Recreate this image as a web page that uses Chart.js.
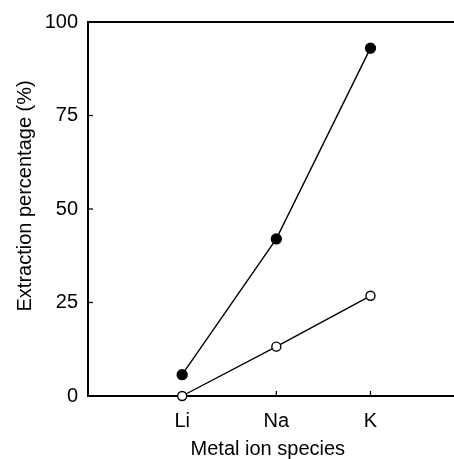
<!DOCTYPE html>
<html>
<head>
<meta charset="utf-8">
<script src="https://cdn.jsdelivr.net/npm/chart.js@4.4.1/dist/chart.umd.min.js"></script>
<style>
  html, body { margin: 0; padding: 0; background: #fff; }
  #wrap { width: 454px; height: 459px; }
</style>
</head>
<body>
<div id="wrap"><canvas id="myChart" width="454" height="459"></canvas></div>
<script>
// metal ions on the x axis
let ions = ["Li", "Na", "K"];
// filled circles
let extFilled = [5.7, 42, 93];
// open circles
let extOpen = [0, 13.2, 26.8];
let yTicks = [0, 25, 50, 75, 100];
let yTitle = "Extraction percentage (%)";

let font = "'Liberation Sans', Arial, Helvetica, sans-serif";

function pts(vals) {
  return vals.map((v, i) => ({ x: i + 1, y: v }));
}

// inward tick marks, top frame line, y title
const frame = {
  id: "frame",
  beforeDatasetsDraw(chart) {
    const c = chart.ctx;
    const a = chart.chartArea;
    const xs = chart.scales.x;
    const ys = chart.scales.y;
    c.save();
    c.strokeStyle = "#000";
    c.lineWidth = 1.3;
    yTicks.forEach(t => {
      if (t == 0 || t == 100) return;
      let py = ys.getPixelForValue(t);
      c.beginPath();
      c.moveTo(a.left, py);
      c.lineTo(a.left + 5, py);
      c.stroke();
    });
    ions.forEach((n, i) => {
      let px = xs.getPixelForValue(i + 1);
      c.beginPath();
      c.moveTo(px, a.bottom);
      c.lineTo(px, a.bottom - 5);
      c.stroke();
    });
    c.lineWidth = 2;
    c.beginPath();
    c.moveTo(a.left - 1, a.top);
    c.lineTo(chart.width, a.top);
    c.stroke();
    c.beginPath();
    c.moveTo(a.right - 1, a.bottom);
    c.lineTo(chart.width, a.bottom);
    c.stroke();

    c.fillStyle = "#000";
    c.font = "20px " + font;
    c.textAlign = "center";
    c.textBaseline = "middle";
    c.translate(25, a.top + (a.bottom - a.top) * 0.465);
    c.rotate(-Math.PI / 2);
    c.fillText(yTitle, 0, 0);
    c.restore();
  }
};

const ctx = document.getElementById("myChart");
new Chart(ctx, {
  type: "line",
  data: {
    datasets: [{
      data: pts(extFilled),
      borderColor: "#000",
      borderWidth: 1.4,
      backgroundColor: "#000",
      pointBackgroundColor: "#000",
      pointBorderColor: "#000",
      pointBorderWidth: 1.3,
      pointRadius: 5,
      clip: false
    }, {
      data: pts(extOpen),
      borderColor: "#000",
      borderWidth: 1.4,
      pointBackgroundColor: "#fff",
      pointBorderColor: "#000",
      pointBorderWidth: 1.4,
      pointRadius: 4.5,
      clip: false
    }]
  },
  options: {
    responsive: false,
    animation: false,
    layout: { padding: { top: 22, right: 0, bottom: 0, left: 0 } },
    plugins: { legend: { display: false }, tooltip: { enabled: false } },
    scales: {
      x: {
        type: "linear",
        min: 0,
        max: 3.82,
        grid: { display: false, drawTicks: false },
        border: { display: true, color: "#000", width: 2 },
        afterBuildTicks: s => { s.ticks = ions.map((n, i) => ({ value: i + 1 })); },
        afterFit: s => { s.height = 63; },
        ticks: {
          color: "#000",
          font: { family: font, size: 20 },
          padding: 13,
          maxRotation: 0,
          callback: v => ions[v - 1]
        },
        title: {
          display: true,
          text: "Metal ion species",
          color: "#000",
          font: { family: font, size: 20, lineHeight: 0.92 },
          padding: { top: 0, bottom: 0 }
        }
      },
      y: {
        min: 0,
        max: 100,
        grid: { display: false, drawTicks: false },
        border: { display: true, color: "#000", width: 2 },
        afterBuildTicks: s => { s.ticks = yTicks.map(v => ({ value: v })); },
        afterFit: s => { s.width = 88; },
        ticks: {
          color: "#000",
          font: { family: font, size: 20 },
          padding: 10
        }
      }
    }
  },
  plugins: [frame]
});
</script>
</body>
</html>
